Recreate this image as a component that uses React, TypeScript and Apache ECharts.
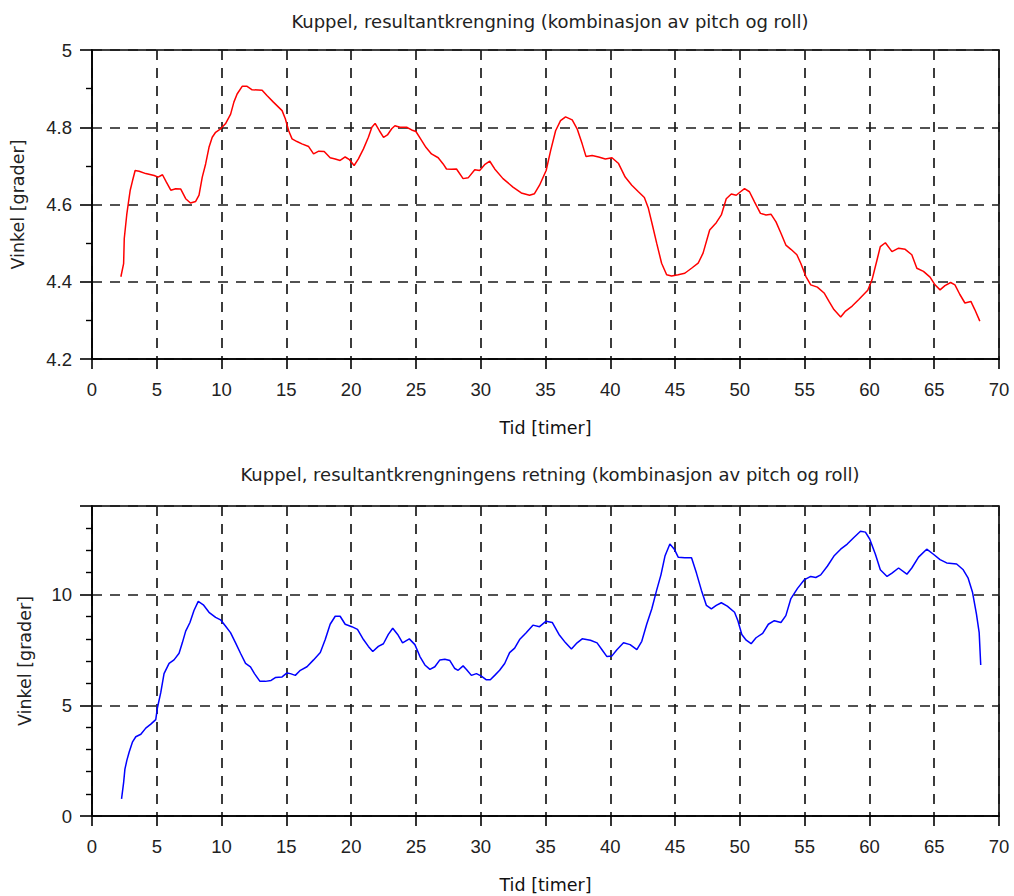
import React, { useEffect, useRef } from "react";
import * as echarts from "echarts";

const topTitle = "Kuppel, resultantkrengning (kombinasjon av pitch og roll)";
const bottomTitle = "Kuppel, resultantkrengningens retning (kombinasjon av pitch og roll)";
const xName = "Tid [timer]";
const yName = "Vinkel [grader]";

const redTime = [2.23,2.44,2.49,2.69,2.8,2.95,3.13,3.33,3.64,4.15,4.8,5.1,5.44,5.74,6.08,6.46,6.85,7.23,7.6,8.0,8.26,8.51,8.77,9.03,9.28,9.54,9.92,10.3,10.7,10.95,11.2,11.59,11.97,12.36,13.13,13.5,14.0,14.67,14.92,15.18,15.44,15.82,16.2,16.72,17.1,17.5,17.92,18.38,18.77,19.15,19.54,19.87,20.23,20.56,20.95,21.33,21.6,21.85,22.18,22.5,22.8,23.13,23.38,23.77,24.28,24.67,25.0,25.36,25.77,26.2,26.72,27.1,27.36,27.74,28.13,28.64,29.03,29.54,29.92,30.3,30.7,31.08,31.72,32.49,33.13,33.77,34.15,34.54,35.05,35.4,35.78,36.16,36.55,37.06,37.44,37.83,38.13,38.6,39.1,39.62,40.13,40.64,41.15,41.66,42.17,42.63,42.94,43.25,43.58,43.96,44.35,44.73,45.24,45.75,46.27,46.78,47.16,47.67,48.18,48.57,48.95,49.34,49.72,50.05,50.36,50.74,51.13,51.59,52.02,52.4,52.79,53.18,53.55,53.94,54.4,54.7,55.09,55.47,55.98,56.5,56.88,57.26,57.78,58.16,58.67,59.18,59.87,60.2,60.59,60.84,61.23,61.74,62.25,62.76,63.27,63.66,64.17,64.68,65.06,65.45,65.83,66.27,66.6,66.98,67.37,67.83,68.13,68.52];
const redValue = [4.413,4.447,4.512,4.576,4.602,4.637,4.662,4.688,4.686,4.68,4.675,4.671,4.677,4.658,4.637,4.641,4.64,4.615,4.604,4.608,4.624,4.671,4.705,4.748,4.774,4.787,4.796,4.809,4.834,4.865,4.886,4.906,4.906,4.897,4.896,4.882,4.865,4.843,4.822,4.791,4.77,4.763,4.757,4.75,4.731,4.738,4.737,4.721,4.718,4.714,4.723,4.716,4.701,4.718,4.744,4.774,4.8,4.81,4.791,4.774,4.78,4.796,4.804,4.8,4.8,4.793,4.789,4.77,4.748,4.731,4.721,4.705,4.692,4.691,4.692,4.667,4.669,4.69,4.688,4.703,4.712,4.692,4.667,4.645,4.63,4.624,4.628,4.65,4.688,4.74,4.791,4.817,4.827,4.819,4.796,4.757,4.724,4.727,4.723,4.718,4.721,4.706,4.671,4.65,4.633,4.618,4.59,4.547,4.5,4.448,4.418,4.415,4.418,4.422,4.435,4.448,4.474,4.534,4.553,4.573,4.615,4.627,4.624,4.633,4.641,4.633,4.607,4.577,4.573,4.575,4.555,4.525,4.495,4.484,4.47,4.448,4.414,4.392,4.386,4.371,4.349,4.328,4.309,4.324,4.337,4.354,4.378,4.405,4.457,4.491,4.501,4.478,4.487,4.484,4.47,4.435,4.427,4.412,4.392,4.379,4.39,4.398,4.392,4.367,4.345,4.349,4.328,4.298];

const blueTime = [2.28,2.44,2.54,2.69,2.87,3.13,3.38,3.77,4.15,4.54,4.92,5.05,5.31,5.56,5.95,6.33,6.72,6.97,7.23,7.56,7.87,8.2,8.59,9.03,9.54,9.92,10.3,10.69,11.08,11.46,11.85,12.23,12.54,12.95,13.38,13.82,14.15,14.67,15.05,15.31,15.69,16.08,16.59,17.1,17.62,18.0,18.38,18.77,19.15,19.54,20.05,20.49,20.95,21.33,21.67,22.1,22.49,22.87,23.21,23.59,23.97,24.49,24.92,25.31,25.69,26.08,26.46,26.85,27.23,27.62,28.0,28.26,28.64,28.9,29.28,29.67,30.05,30.44,30.74,31.08,31.46,31.85,32.23,32.62,33.0,33.51,34.03,34.54,35.05,35.52,36.04,36.55,37.0,37.44,37.83,38.47,38.98,39.36,39.74,40.13,40.51,41.02,41.53,42.05,42.43,42.81,43.2,43.58,43.91,44.22,44.6,44.94,45.24,45.75,46.27,46.65,47.03,47.42,47.8,48.18,48.57,49.03,49.59,49.85,50.15,50.49,50.87,51.25,51.76,52.2,52.66,53.17,53.55,53.94,54.45,54.96,55.47,55.86,56.24,56.75,57.26,57.78,58.29,58.8,59.31,59.69,60.02,60.46,60.84,61.36,61.74,62.25,62.89,63.27,63.79,64.42,64.94,65.45,65.96,66.73,67.24,67.62,67.95,68.26,68.47,68.59];
const blueValue = [0.77,1.51,2.12,2.51,2.89,3.35,3.58,3.69,3.97,4.15,4.35,4.89,5.58,6.43,6.89,7.05,7.35,7.82,8.35,8.74,9.28,9.69,9.54,9.2,8.97,8.86,8.58,8.28,7.82,7.35,6.89,6.74,6.43,6.09,6.08,6.12,6.25,6.28,6.46,6.43,6.35,6.58,6.74,7.05,7.38,7.97,8.66,9.02,9.02,8.66,8.55,8.43,7.97,7.66,7.43,7.66,7.78,8.2,8.48,8.2,7.82,8.0,7.74,7.2,6.82,6.62,6.74,7.05,7.08,7.02,6.66,6.58,6.78,6.62,6.35,6.43,6.32,6.15,6.15,6.35,6.58,6.89,7.38,7.58,7.97,8.28,8.62,8.55,8.8,8.74,8.2,7.82,7.54,7.82,8.0,7.94,7.82,7.51,7.2,7.23,7.51,7.82,7.74,7.51,7.89,8.66,9.35,10.2,10.89,11.74,12.28,12.05,11.69,11.66,11.66,10.97,10.2,9.51,9.35,9.51,9.63,9.48,9.2,8.82,8.2,7.94,7.78,8.05,8.25,8.66,8.82,8.74,9.05,9.82,10.28,10.66,10.82,10.77,10.89,11.28,11.74,12.05,12.28,12.58,12.86,12.82,12.51,11.82,11.12,10.82,10.97,11.2,10.92,11.2,11.69,12.05,11.82,11.58,11.43,11.38,11.12,10.74,10.12,9.12,8.28,6.82];

const xTicks = [0, 70, 5];
const topYRange = [4.2, 5, 0.2];
const bottomYRange = [0, 14, 5];

const pairs = (t: number[], v: number[]) => t.map((x, i) => [x, v[i]]);

export default function App() {
  const ref = useRef<HTMLDivElement>(null);
  useEffect(() => {
    document.body.style.margin = "0";
    const chart = echarts.init(ref.current!, null, { renderer: "svg" });
    const textColor = "#222";
    const gridLine = { show: true, lineStyle: { color: "#1a1a1a", type: [10, 8] as any, width: 1.7 } };
    const xAxisCommon = (gi: number) => ({
      type: "value",
      gridIndex: gi,
      min: xTicks[0],
      max: xTicks[1],
      interval: xTicks[2],
      name: xName,
      nameLocation: "middle",
      nameGap: 60,
      nameTextStyle: { fontFamily: "DejaVu Sans", fontSize: 17.5, color: "#111" },
      axisLine: { show: true, onZero: false, lineStyle: { color: "#000", width: 1.6 } },
      axisTick: { show: true, inside: false, length: 10, lineStyle: { color: "#000", width: 1.6 } },
      axisLabel: { fontFamily: "Liberation Sans", fontSize: 18.5, color: textColor, margin: 21 },
      splitLine: gridLine,
    });
    const yAxisCommon = (gi: number, r: number[], minorSplit: number, nameGap: number) => ({
      type: "value",
      gridIndex: gi,
      min: r[0],
      max: r[1],
      interval: r[2],
      name: yName,
      nameLocation: "middle",
      nameGap,
      nameTextStyle: { fontFamily: "DejaVu Sans", fontSize: 17.5, color: textColor },
      axisLine: { show: true, onZero: false, lineStyle: { color: "#000", width: 1.6 } },
      axisTick: { show: true, inside: false, length: 12, lineStyle: { color: "#000", width: 1.6 } },
      minorTick: { show: true, splitNumber: minorSplit, length: 6, lineStyle: { color: "#000", width: 1.4 } },
      axisLabel: { fontFamily: "Liberation Sans", fontSize: 18.5, color: textColor, margin: 20, showMaxLabel: gi === 0 },
      splitLine: gridLine,
    });
    chart.setOption({
      animation: false,
      backgroundColor: "#fff",
      title: [
        { text: topTitle, left: 545, top: 7, textAlign: "center", textStyle: { fontFamily: "DejaVu Sans", fontSize: 18, fontWeight: "normal", color: textColor } },
        { text: bottomTitle, left: 545, top: 460, textAlign: "center", textStyle: { fontFamily: "DejaVu Sans", fontSize: 18, fontWeight: "normal", color: textColor } },
      ],
      grid: [
        { left: 92, top: 50, width: 907, height: 309, show: true, borderColor: "#000", borderWidth: 1.6, backgroundColor: "transparent" },
        { left: 92, top: 506, width: 907, height: 310, show: true, borderColor: "#000", borderWidth: 1.6, backgroundColor: "transparent" },
      ],
      xAxis: [xAxisCommon(0), xAxisCommon(1)],
      yAxis: [yAxisCommon(0, topYRange, 2, 65), yAxisCommon(1, bottomYRange, 5, 58)],
      series: [
        { type: "line", xAxisIndex: 0, yAxisIndex: 0, data: pairs(redTime, redValue), showSymbol: false, lineStyle: { color: "#ff0000", width: 1.5 }, itemStyle: { color: "#ff0000" } },
        { type: "line", xAxisIndex: 1, yAxisIndex: 1, data: pairs(blueTime, blueValue), showSymbol: false, lineStyle: { color: "#0000ff", width: 1.5 }, itemStyle: { color: "#0000ff" } },
      ],
    });
    return () => chart.dispose();
  }, []);
  return <div ref={ref} style={{ width: 1014, height: 896 }} />;
}
